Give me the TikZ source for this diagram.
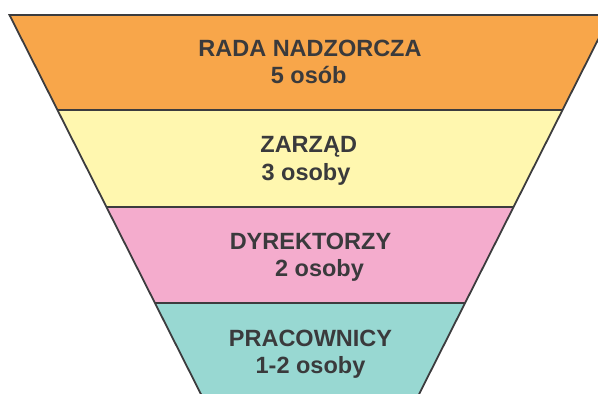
\documentclass[tikz,border=0pt]{standalone}
\usepackage{fontspec}
\setmainfont{Liberation Sans}
\definecolor{cOrange}{RGB}{248,166,74}
\definecolor{cYellow}{RGB}{255,247,175}
\definecolor{cPink}{RGB}{244,172,205}
\definecolor{cTeal}{RGB}{152,216,210}
\definecolor{cLine}{RGB}{60,60,62}
\definecolor{cText}{RGB}{58,58,60}
\begin{document}
\begin{tikzpicture}[x=1pt,y=-1pt,
  band/.style={draw=cLine,line width=1.8pt,line join=miter},
  lbl/.style={anchor=base,inner sep=0pt,text=cText,font=\bfseries\fontsize{23.5}{27}\selectfont}]
\useasboundingbox (0,0) rectangle (598,394);
\clip (0,0) rectangle (598,394);
% funnel bands
\fill[cTeal] (155,303) -- (465,303) -- (406,420) -- (214,420) -- cycle;
\fill[cPink] (106.5,207) -- (513.5,207) -- (465,303) -- (155,303) -- cycle;
\fill[cYellow] (57.5,110) -- (562.5,110) -- (513.5,207) -- (106.5,207) -- cycle;
\fill[cOrange] (9.5,15) -- (610.5,15) -- (562.5,110) -- (57.5,110) -- cycle;
\draw[band] (214,420) -- (9.5,15) -- (610.5,15) -- (406,420);
\draw[band] (57.5,110) -- (562.5,110);
\draw[band] (106.5,207) -- (513.5,207);
\draw[band] (155,303) -- (465,303);
% labels
\node[lbl] (t1a) at (310,56.7) {RADA NADZORCZA};
\node[lbl] (t1b) at (308.7,83.3) {5 osób};
\node[lbl] (t2a) at (308.7,152.3) {ZARZĄD};
\node[lbl] (t2b) at (306,180) {3 osoby};
\node[lbl] (t3a) at (310.5,249.3) {DYREKTORZY};
\node[lbl] (t3b) at (319.5,276.7) {2 osoby};
\node[lbl] (t4a) at (310.5,346) {PRACOWNICY};
\node[lbl] (t4b) at (310.5,373.3) {1-2 osoby};
\end{tikzpicture}
\end{document}
